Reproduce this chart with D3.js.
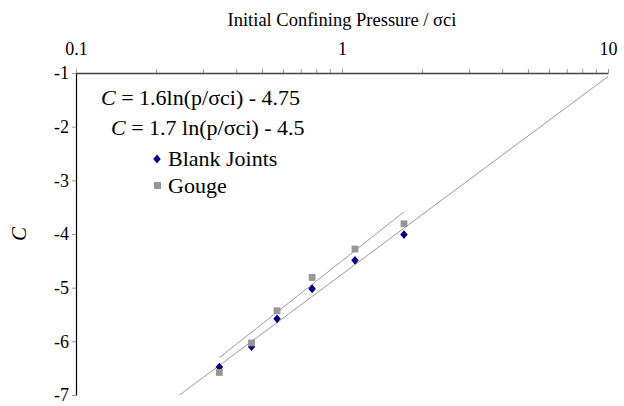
<!DOCTYPE html>
<html>
<head>
<meta charset="utf-8">
<script src="https://cdn.jsdelivr.net/npm/d3@7/dist/d3.min.js"></script>
<style>
  html, body { margin: 0; padding: 0; background: #fff; }
  svg, svg text { font-family: "Liberation Serif", Tinos, "Times New Roman", Times, "Noto Serif", "DejaVu Serif", serif; }
</style>
</head>
<body>
<svg id="chart" width="624" height="406"></svg>
<script>
// Initial confining pressure (p / sigma_ci) for each test
const pressure = [0.346, 0.457, 0.570, 0.772, 1.119, 1.71];
// Measured C values
const blankJoints = [-6.48, -6.10, -5.58, -5.02, -4.49, -4.01];
const gouge = [-6.58, -6.03, -5.43, -4.81, -4.28, -3.81];

// Logarithmic trendlines C = a ln(p) + b
const trendNames = ["Blank Joints", "Gouge"];
const trendSlopes = [1.6, 1.7];
const trendIntercepts = [-4.75, -4.5];
const trendLabels = ["= 1.6ln(p/σci) - 4.75", "= 1.7 ln(p/σci) - 4.5"];

// Axis ticks
const xMajorTicks = [0.1, 1, 10];
const xTickLabels = ["0.1", "1", "10"];
const xMinorTicks = [0.2, 0.3, 0.4, 0.5, 0.6, 0.7, 0.8, 0.9, 2, 3, 4, 5, 6, 7, 8, 9];
const yTicks = [-1, -2, -3, -4, -5, -6, -7];
const yTickLabels = ["-1", "-2", "-3", "-4", "-5", "-6", "-7"];

const FONT = "'Liberation Serif', Tinos, 'Times New Roman', Times, 'Noto Serif', 'DejaVu Serif', serif";

const svg = d3.select("#chart");
const margin = { top: 73, right: 16, bottom: 11, left: 76 };
const W = 624, H = 406;

const x = d3.scaleLog().domain([0.1, 10]).range([margin.left, W - margin.right]);
const y = d3.scaleLinear().domain([-1, -7]).range([margin.top, H - margin.bottom]);

svg.append("defs").append("clipPath").attr("id", "plotClip")
  .append("rect")
  .attr("x", margin.left).attr("y", margin.top)
  .attr("width", W - margin.left - margin.right)
  .attr("height", H - margin.top - margin.bottom);

// Trendlines
const lineGen = d3.line().x(d => x(d[0])).y(d => y(d[1]));
const trendRanges = [[0.1, 10], [pressure[0], pressure[pressure.length - 1]]];
const trendG = svg.append("g").attr("clip-path", "url(#plotClip)");
trendSlopes.forEach((a, i) => {
  const [p0, p1] = trendRanges[i];
  const pts = d3.range(0, 41).map(k => {
    const p = Math.exp(Math.log(p0) + (Math.log(p1) - Math.log(p0)) * k / 40);
    return [p, a * Math.log(p) + trendIntercepts[i]];
  });
  trendG.append("path")
    .attr("d", lineGen(pts))
    .attr("fill", "none")
    .attr("stroke", "#9a9a9a")
    .attr("stroke-width", 1);
});

// Markers
const diamond = (cx, cy, r) => `M${cx},${cy - r}L${cx + r * 0.85},${cy}L${cx},${cy + r}L${cx - r * 0.85},${cy}Z`;
svg.append("g").selectAll("path")
  .data(pressure.map((p, i) => [p, blankJoints[i]]))
  .join("path")
  .attr("d", d => diamond(x(d[0]), y(d[1]), 4.4))
  .attr("fill", "#000080");

svg.append("g").selectAll("rect")
  .data(pressure.map((p, i) => [p, gouge[i]]))
  .join("rect")
  .attr("x", d => x(d[0]) - 3.4)
  .attr("y", d => y(d[1]) - 3.4)
  .attr("width", 6.8).attr("height", 6.8)
  .attr("fill", "#979797");

// Top (x) axis: minor ticks
svg.append("g")
  .attr("transform", `translate(0,${margin.top})`)
  .call(d3.axisTop(x).tickValues(xMinorTicks).tickSize(4).tickFormat(""))
  .call(g => g.select(".domain").remove())
  .call(g => g.selectAll("line").attr("stroke", "#999"));

// Top (x) axis: major ticks and labels
svg.append("g")
  .attr("transform", `translate(0,${margin.top})`)
  .call(d3.axisTop(x).tickValues(xMajorTicks).tickSize(4).tickSizeOuter(0)
    .tickFormat((d, i) => xTickLabels[i]))
  .attr("font-family", FONT)
  .call(g => g.select(".domain").attr("stroke", "#444").attr("stroke-width", 1.6))
  .call(g => g.selectAll("line").attr("stroke", "#999"))
  .call(g => g.selectAll("text")
    .attr("font-size", 18).attr("fill", "#000")
    .attr("dy", "-0.6em"));

// Left (y) axis
svg.append("g")
  .attr("transform", `translate(${margin.left},0)`)
  .call(d3.axisLeft(y).tickValues(yTicks).tickSize(4).tickSizeOuter(0)
    .tickFormat((d, i) => yTickLabels[i]))
  .attr("font-family", FONT)
  .call(g => g.select(".domain").attr("stroke", "#000").attr("stroke-width", 1.2))
  .call(g => g.selectAll("line").attr("stroke", "#999"))
  .call(g => g.selectAll("text")
    .attr("font-size", 18).attr("fill", "#000")
    .attr("x", -7));

// Axis titles
svg.append("text")
  .attr("x", x(1)).attr("y", 26)
  .attr("text-anchor", "middle")
  .attr("font-family", FONT)
  .attr("font-size", 18.5)
  .text("Initial Confining Pressure / σci");

svg.append("text")
  .attr("transform", `translate(26,${(margin.top + H - margin.bottom) / 2}) rotate(-90)`)
  .attr("text-anchor", "middle")
  .attr("font-family", FONT)
  .attr("font-size", 21)
  .attr("font-style", "italic")
  .text("C");

// Trendline equations
const eqPos = [[101, 105], [111, 135]];
trendLabels.forEach((lbl, i) => {
  const t = svg.append("text")
    .attr("x", eqPos[i][0]).attr("y", eqPos[i][1])
    .attr("font-family", FONT)
    .attr("font-size", 22);
  t.append("tspan").attr("font-style", "italic").text("C");
  t.append("tspan").text(" " + lbl);
});

// Legend
const legend = svg.append("g").attr("font-family", FONT);
legend.append("path").attr("d", diamond(157, 159, 4.4)).attr("fill", "#000080");
legend.append("text").attr("x", 168).attr("y", 166).attr("font-size", 22).text(trendNames[0]);
legend.append("rect").attr("x", 154).attr("y", 182).attr("width", 7).attr("height", 7).attr("fill", "#979797");
legend.append("text").attr("x", 168).attr("y", 193).attr("font-size", 22).text(trendNames[1]);
</script>
</body>
</html>
